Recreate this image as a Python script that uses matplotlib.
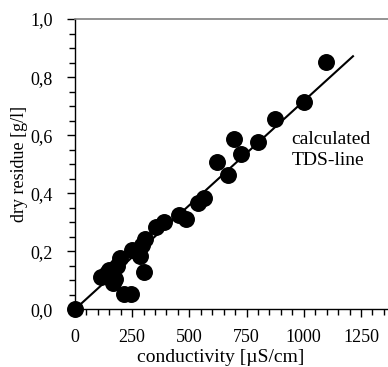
import numpy as np
import matplotlib
matplotlib.use('Agg')
import matplotlib.pyplot as plt
from matplotlib import ticker

plt.rcParams['font.family'] = ['Liberation Serif', 'DejaVu Serif']

# measured samples: conductivity [uS/cm] vs dry residue [g/l]
cond = [0, 115, 140, 150, 165, 175, 185, 195, 215, 245, 250, 285, 295, 300, 305,
        355, 388, 456, 484, 540, 564, 621, 668, 694, 727, 800, 876, 1000, 1096]
residue = [0, 0.11, 0.125, 0.135, 0.09, 0.105, 0.148, 0.176, 0.053, 0.053, 0.205,
           0.184, 0.222, 0.13, 0.242, 0.285, 0.302, 0.325, 0.312, 0.366, 0.384,
           0.507, 0.463, 0.587, 0.534, 0.576, 0.656, 0.713, 0.853]

# calculated TDS line
tds_x = [0, 1215]
tds_y = [0, 0.872]

fig = plt.figure(figsize=(3.88, 3.67), dpi=100)
ax = fig.add_axes([0.193, 0.157, 0.807, 0.791])

ax.plot(tds_x, tds_y, color='black', lw=1.5, zorder=2)
ax.scatter(cond, residue, s=125, color='black', zorder=3, clip_on=False)

ax.set_xlim(0, 1368)
ax.set_ylim(0, 1.0)

ax.xaxis.set_major_locator(ticker.MultipleLocator(250))
ax.xaxis.set_minor_locator(ticker.MultipleLocator(50))
ax.yaxis.set_major_locator(ticker.MultipleLocator(0.2))
ax.yaxis.set_minor_locator(ticker.MultipleLocator(0.05))
ax.yaxis.set_major_formatter(ticker.FuncFormatter(lambda v, p: f"{v:.1f}".replace('.', ',')))

ax.tick_params(which='both', direction='out', width=1, labelsize=13, color='black')
ax.tick_params(which='major', length=6)
ax.tick_params(which='minor', length=4)
ax.tick_params(axis='x', which='major', pad=8)
ax.tick_params(axis='y', which='major', pad=10)

ax.spines['right'].set_visible(False)
ax.spines['top'].set_color('#808080')
ax.spines['top'].set_linewidth(1.2)
for s in ['left', 'bottom']:
    ax.spines[s].set_linewidth(1)

ax.set_xlabel('conductivity [µS/cm]', fontsize=14)
ax.xaxis.set_label_coords(0.466, -0.18)
ax.xaxis.label.set_va('baseline')
ax.set_ylabel('dry residue [g/l]', fontsize=13)
ax.yaxis.set_label_coords(-0.176, 0.5)
ax.yaxis.label.set_va('center')

ax.text(947, 0.549, 'calculated\nTDS-line', fontsize=14, ha='left', va='center',
        linespacing=1.3)

fig.savefig('out.png', dpi=100)
